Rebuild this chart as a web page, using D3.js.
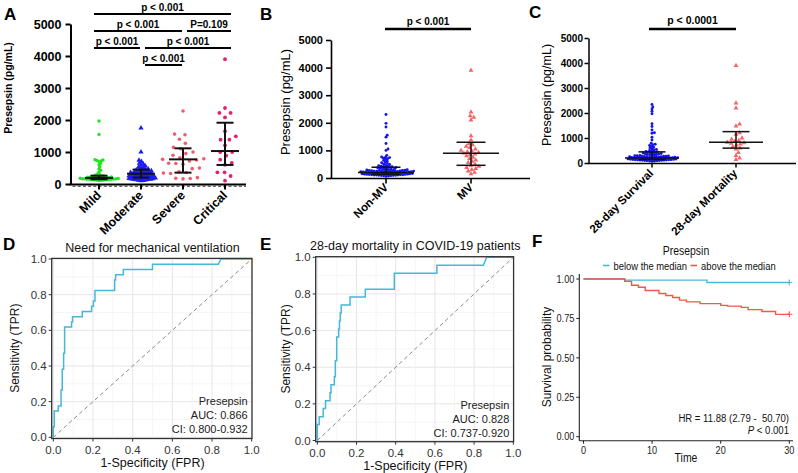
<!DOCTYPE html>
<html><head><meta charset="utf-8">
<script src="https://cdn.jsdelivr.net/npm/d3@7"></script>
<style>
body{margin:0;background:#fff}
svg{display:block}
</style></head><body>
<svg id="fig" width="798" height="473"></svg>
<script>
// ---------------- DATA ----------------
const scatterTicks = [0, 1000, 2000, 3000, 4000, 5000];

// Panel A
const catsA = ["Mild", "Moderate", "Severe", "Critical"];
const mild = [110,115,120,125,130,135,140,140,145,150,150,155,160,160,165,170,170,175,180,180,185,190,195,200,200,210,215,220,230,240,250,260,275,290,320,380,430,480,540,600,650,700,720,735,750,760,1550,1970];
const moderate = [100,110,120,125,130,140,145,150,160,165,170,180,185,190,200,205,210,220,225,230,240,245,250,260,265,270,280,290,300,305,310,320,330,340,350,355,360,370,380,390,400,410,420,430,440,450,470,490,510,530,560,590,620,650,700,740,1000,1750];
const severe = [2280,1560,1540,1400,1270,1150,1100,1000,950,900,820,790,770,750,720,650,640,620,500,480,380,360,340,330,200,180,170,160];
const critical = [3900,2375,2220,2220,2080,1650,1490,1385,1385,1210,1000,1000,885,760,656,600,365,365,250,104];
const medianA = [190, 320, 770, 1030];
const q1A = [150, 200, 355, 595];
const q3A = [260, 450, 1115, 1915];
const sigA = [
  {a:"Mild", b:"Critical", label:"p < 0.001", level:0},
  {a:"Mild", b:"Severe", label:"p < 0.001", level:1},
  {a:"Severe", b:"Critical", label:"P=0.109", level:1},
  {a:"Mild", b:"Moderate", label:"p < 0.001", level:2},
  {a:"Moderate", b:"Critical", label:"p < 0.001", level:2},
  {a:"Moderate", b:"Severe", label:"p < 0.001", level:3}
];

// Panel B
const catsB = ["Non-MV", "MV"];
const nonMV = [60,70,80,85,90,95,100,100,105,110,110,115,120,120,125,130,130,135,140,140,145,150,150,155,160,160,165,170,170,175,180,180,185,190,190,195,200,200,205,210,210,215,220,220,225,230,230,235,240,240,245,250,250,255,260,260,265,270,270,275,280,285,290,295,300,
  310,320,330,340,350,360,370,380,390,400,410,420,430,440,450,470,490,510,530,550,580,610,640,670,700,720,740,750,760,
  820,1000,1050,1250,1480,1550,1850,1980,2300];
const mv = [3900,2390,2250,2200,2100,1530,1380,1250,1200,1150,1100,1050,1000,980,950,920,900,870,850,800,750,700,650,600,560,500,460,420,380,340,300,250,200,150];
const medianB = [200, 900];
const q1B = [140, 460];
const q3B = [390, 1295];
const sigB = [{a:"Non-MV", b:"MV", label:"p < 0.001", level:0}];

// Panel C
const catsC = ["28-day Survival", "28-day Mortality"];
const survival = [65,75,80,90,95,100,100,105,110,115,115,120,125,130,130,135,140,145,145,150,155,160,160,165,170,175,175,180,185,190,190,195,200,200,205,210,215,215,220,225,230,230,235,240,245,250,250,255,260,265,270,270,275,280,290,295,300,
  310,320,330,340,350,360,370,380,390,400,410,420,430,445,460,480,500,520,540,570,600,630,660,700,730,750,
  790,920,1030,1190,1210,1320,1460,1570,1970,2070,2160,2240,2340];
const mortality = [3900,2400,2200,1560,1480,1210,1150,1000,950,900,860,830,810,790,760,720,650,600,560,420,300,200,140];
const medianC = [200, 826];
const q1C = [140, 595];
const q3C = [445, 1255];
const sigC = [{a:"28-day Survival", b:"28-day Mortality", label:"p < 0.0001", level:0}];

// Panel D ROC (FPR, TPR)
const rocD_fpr = [0,0,0.005,0.005,0.025,0.025,0.039,0.039,0.045,0.045,0.052,0.052,0.057,0.057,0.092,0.092,0.097,0.097,0.146,0.146,0.193,0.193,0.202,0.202,0.210,0.210,0.309,0.309,0.314,0.314,0.353,0.353,0.50,0.50,0.832,0.845,1];
const rocD_tpr = [0,0.059,0.059,0.147,0.147,0.176,0.176,0.265,0.265,0.382,0.382,0.471,0.471,0.618,0.618,0.647,0.647,0.676,0.676,0.706,0.706,0.735,0.735,0.765,0.765,0.824,0.824,0.882,0.882,0.912,0.912,0.941,0.941,0.971,0.971,1,1];
const rocD_text = ["Presepsin", "AUC: 0.866", "CI: 0.800-0.932"];

// Panel E ROC
const rocE_fpr = [0,0,0.01,0.01,0.03,0.03,0.042,0.042,0.065,0.065,0.07,0.07,0.087,0.087,0.092,0.092,0.099,0.099,0.109,0.109,0.113,0.113,0.117,0.117,0.122,0.122,0.167,0.167,0.245,0.245,0.393,0.393,0.61,0.61,0.847,0.864,1];
const rocE_tpr = [0,0.087,0.087,0.13,0.13,0.174,0.174,0.217,0.217,0.261,0.261,0.304,0.304,0.348,0.348,0.435,0.435,0.565,0.565,0.609,0.609,0.652,0.652,0.696,0.696,0.739,0.739,0.783,0.783,0.826,0.826,0.913,0.913,0.957,0.957,1,1];
const rocE_text = ["Presepsin", "AUC: 0.828", "CI: 0.737-0.920"];
const rocTicks = [0, 0.2, 0.4, 0.6, 0.8, 1.0];

// Panel F Kaplan-Meier
const kmLowT = [0, 6, 18, 30];
const kmLowS = [1, 0.993, 0.978, 0.978];
const kmHighT = [0,6,7,8,9,11,12,13,14,15,17,20,21,23,24,26,28,30];
const kmHighS = [1,0.985,0.96,0.948,0.927,0.908,0.895,0.883,0.866,0.855,0.844,0.833,0.828,0.82,0.806,0.794,0.776,0.776];
const kmTimeTicks = [0, 10, 20, 30];
const kmSurvTicks = [0, 0.25, 0.5, 0.75, 1.0];
const kmLegend = ["below the median", "above the median"];

// ---------------- DRAW ----------------
const FONT = '"Liberation Sans", Arial, Helvetica, sans-serif';
const svg = d3.select("#fig").attr("font-family", FONT);

function panelLabel(t, x, y) {
  svg.append("text").attr("x", x).attr("y", y).attr("font-size", 17)
    .attr("font-weight", "bold").attr("fill", "#000").text(t);
}

// deterministic beeswarm
function swarm(vals, y, cx, d) {
  const pts = vals.map(v => ({v, y: y(v)})).sort((a, b) => a.v - b.v);
  const placed = [];
  const step = 0.4;
  for (const p of pts) {
    let px = cx;
    for (let k = 0; k < 500; k++) {
      const off = (k % 2 ? 1 : -1) * Math.ceil(k / 2) * step;
      const xx = cx + off;
      let ok = true;
      for (const q of placed) {
        const dx = q.x - xx, dy = q.y - p.y;
        if (dx * dx + dy * dy < d * d) { ok = false; break; }
      }
      if (ok) { px = xx; break; }
    }
    p.x = px;
    placed.push(p);
  }
  return pts;
}

function scatterPanel(o) {
  const g = svg.append("g");
  const y = d3.scaleLinear().domain([0, 5000]).range([o.yBot, o.yTop]);
  const x = d3.scalePoint().domain(o.cats).range([o.cx0, o.cx1]);

  // points
  o.groups.forEach((grp, i) => {
    const pts = swarm(grp.values, y, x(o.cats[i]), grp.d);
    if (grp.shape === "tri") {
      g.append("g").selectAll("path").data(pts).join("path")
        .attr("transform", p => `translate(${p.x},${p.y})`)
        .attr("d", d3.symbol(d3.symbolTriangle, grp.size))
        .attr("fill", grp.color);
    } else {
      g.append("g").selectAll("circle").data(pts).join("circle")
        .attr("cx", p => p.x).attr("cy", p => p.y).attr("r", grp.r)
        .attr("fill", grp.color);
    }
  });

  // error bars (median & IQR)
  o.cats.forEach((c, i) => {
    const cx = x(c);
    const eg = g.append("g").attr("stroke", "#111").attr("stroke-width", o.ebw).attr("fill", "none");
    eg.append("line").attr("x1", cx).attr("x2", cx).attr("y1", y(o.q1[i])).attr("y2", y(o.q3[i]));
    eg.append("line").attr("x1", cx - o.medW).attr("x2", cx + o.medW).attr("y1", y(o.med[i])).attr("y2", y(o.med[i]));
    [o.q1[i], o.q3[i]].forEach(v => eg.append("line").attr("x1", cx - o.capW).attr("x2", cx + o.capW).attr("y1", y(v)).attr("y2", y(v)));
  });

  // y axis
  const ya = g.append("g").attr("transform", `translate(${o.axX},0)`)
    .call(d3.axisLeft(y).tickValues(scatterTicks).tickSize(o.tickLen).tickSizeOuter(0).tickPadding(o.pad).tickFormat(d3.format("d")));
  ya.attr("font-family", FONT).attr("font-size", o.tickFs);
  ya.select(".domain").attr("stroke", "#000").attr("stroke-width", o.sw);
  ya.selectAll(".tick line").attr("stroke", "#000").attr("stroke-width", o.sw);
  ya.selectAll(".tick text").attr("font-weight", "bold").attr("fill", "#000");

  // x axis
  g.append("line").attr("x1", o.axX - o.sw / 2).attr("x2", o.axEnd).attr("y1", o.yBot + 0.5).attr("y2", o.yBot + 0.5)
    .attr("stroke", "#000").attr("stroke-width", o.sw);
  if (o.minor) {
    g.append("line").attr("x1", o.axX + 2).attr("x2", o.axEnd).attr("y1", o.yBot + 2.3).attr("y2", o.yBot + 2.3)
      .attr("stroke", "#333").attr("stroke-width", 1.1).attr("stroke-dasharray", "3,2.2");
  }
  o.cats.forEach(c => {
    g.append("line").attr("x1", x(c)).attr("x2", x(c)).attr("y1", o.yBot).attr("y2", o.yBot + o.tickLen + 0.5)
      .attr("stroke", "#000").attr("stroke-width", o.sw);
    g.append("text").attr("transform", `translate(${x(c) + o.lblDx},${o.yBot + o.lblDy}) rotate(-45)`)
      .attr("text-anchor", "end").attr("font-size", o.lblFs).attr("font-weight", "bold").attr("fill", "#000").text(c);
  });

  // significance bars
  o.sig.forEach(s => {
    const first = s.a === o.cats[0], last = s.b === o.cats[o.cats.length - 1];
    const xl = x(s.a) + (first ? o.sigPadL : 4);
    const xr = x(s.b) + (last ? o.sigPadR : -1);
    const yy = o.sigTop + s.level * o.sigStep;
    g.append("line").attr("x1", xl).attr("x2", xr).attr("y1", yy).attr("y2", yy)
      .attr("stroke", "#000").attr("stroke-width", o.sigW);
    g.append("text").attr("x", (xl + xr) / 2).attr("y", yy - o.sigTextGap).attr("text-anchor", "middle")
      .attr("font-size", o.sigFs).attr("font-weight", "bold").attr("fill", "#000").text(s.label);
  });

  // y title
  g.append("text").attr("transform", `translate(${o.ytx},${o.yty}) rotate(-90)`)
    .attr("text-anchor", "middle").attr("dominant-baseline", "central")
    .attr("font-size", o.ytFs).attr("font-weight", o.ytW).attr("fill", "#000").text("Presepsin (pg/mL)");
}

// Panel A
scatterPanel({
  cats: catsA, yBot: 184, yTop: 24, cx0: 99, cx1: 225, axX: 70.5, axEnd: 246,
  groups: [
    {values: mild, color: "#22e322", shape: "circle", r: 1.7, d: 2.05},
    {values: moderate, color: "#1c1cf5", shape: "tri", size: 12, d: 2.4},
    {values: severe, color: "#f55a6b", shape: "circle", r: 1.8, d: 7},
    {values: critical, color: "#e1206e", shape: "circle", r: 1.9, d: 7}
  ],
  med: medianA, q1: q1A, q3: q3A, medW: 14, capW: 8.5, ebw: 2,
  tickLen: 5, pad: 4, tickFs: 12.5, sw: 2, minor: true,
  lblDx: 3, lblDy: 12, lblFs: 12.5,
  sig: sigA, sigTop: 14, sigStep: 17, sigPadL: -5, sigPadR: 6, sigW: 1.8, sigTextGap: 3.5, sigFs: 10,
  ytx: 8, yty: 88, ytFs: 10.5, ytW: "bold"
});
panelLabel("A", 4, 20);

// Panel B
scatterPanel({
  cats: catsB, yBot: 178, yTop: 40, cx0: 386, cx1: 471, axX: 331, axEnd: 530,
  groups: [
    {values: nonMV, color: "#1414ee", shape: "circle", r: 1.45, d: 2.15},
    {values: mv, color: "#f56565", shape: "tri", size: 10, d: 3.8}
  ],
  med: medianB, q1: q1B, q3: q3B, medW: 28, capW: 14.5, ebw: 1.5,
  tickLen: 5, pad: 3, tickFs: 11, sw: 1.6, minor: false,
  lblDx: 3, lblDy: 10, lblFs: 11.5,
  sig: sigB, sigTop: 29, sigStep: 0, sigPadL: -1, sigPadR: 0, sigW: 2.4, sigTextGap: 4.5, sigFs: 10,
  ytx: 285, yty: 102, ytFs: 13, ytW: "normal"
});
panelLabel("B", 260, 20);

// Panel C
scatterPanel({
  cats: catsC, yBot: 163, yTop: 38, cx0: 652, cx1: 736, axX: 588.5, axEnd: 796,
  groups: [
    {values: survival, color: "#1414ee", shape: "circle", r: 1.45, d: 2.1},
    {values: mortality, color: "#f56565", shape: "tri", size: 10, d: 3.8}
  ],
  med: medianC, q1: q1C, q3: q3C, medW: 27, capW: 13.5, ebw: 1.5,
  tickLen: 4, pad: 1.5, tickFs: 10, sw: 1.5, minor: false,
  lblDx: 2, lblDy: 11, lblFs: 11.5,
  sig: sigC, sigTop: 29, sigStep: 0, sigPadL: -3, sigPadR: 0, sigW: 2.4, sigTextGap: 5.5, sigFs: 10.5,
  ytx: 547, yty: 95, ytFs: 12.5, ytW: "normal"
});
panelLabel("C", 529, 18);

// ROC panels
function rocPanel(o) {
  const g = svg.append("g");
  const x = d3.scaleLinear().domain([0, 1]).range([o.x0, o.x1]);
  const y = d3.scaleLinear().domain([0, 1]).range([o.y0, o.y1]);
  const bx0 = o.x0 - 1.6, bx1 = o.x1 + 0.3, by0 = o.y0 + 1.2, by1 = o.y1 - 0.6;
  g.append("rect").attr("x", bx0).attr("y", by1).attr("width", bx1 - bx0).attr("height", by0 - by1).attr("fill", "#fff");
  // grid
  const grid = d3.range(0, 11).map(i => i / 10);
  grid.forEach((v, i) => {
    const major = i % 2 === 0;
    const col = major ? "#e6e6e6" : "#f1f1f1";
    const w = major ? 1 : 0.7;
    g.append("line").attr("x1", x(v)).attr("x2", x(v)).attr("y1", by0).attr("y2", by1).attr("stroke", col).attr("stroke-width", w);
    g.append("line").attr("y1", y(v)).attr("y2", y(v)).attr("x1", bx0).attr("x2", bx1).attr("stroke", col).attr("stroke-width", w);
  });
  // diagonal
  g.append("line").attr("x1", x(0)).attr("y1", y(0)).attr("x2", x(1)).attr("y2", y(1))
    .attr("stroke", "#8a8a8a").attr("stroke-width", 1).attr("stroke-dasharray", "4,3");
  // curve
  const pts = o.fpr.map((f, i) => [f, o.tpr[i]]);
  g.append("path").datum(pts).attr("d", d3.line().x(d => x(d[0])).y(d => y(d[1])))
    .attr("fill", "none").attr("stroke", "#45b7d9").attr("stroke-width", 1.5);
  // border
  g.append("rect").attr("x", bx0).attr("y", by1).attr("width", bx1 - bx0).attr("height", by0 - by1)
    .attr("fill", "none").attr("stroke", "#333").attr("stroke-width", 1.3);
  // ticks
  rocTicks.forEach(v => {
    g.append("line").attr("x1", x(v)).attr("x2", x(v)).attr("y1", by0).attr("y2", by0 + 3).attr("stroke", "#333");
    g.append("text").attr("x", x(v)).attr("y", by0 + 15).attr("text-anchor", "middle")
      .attr("font-size", 11.5).attr("fill", "#333").text(d3.format(".1f")(v));
    g.append("line").attr("y1", y(v)).attr("y2", y(v)).attr("x1", bx0).attr("x2", bx0 - 3).attr("stroke", "#333");
    g.append("text").attr("x", bx0 - 5).attr("y", y(v)).attr("dy", "0.35em").attr("text-anchor", "end")
      .attr("font-size", 11.5).attr("fill", "#333").text(d3.format(".1f")(v));
  });
  // annotation
  o.text.forEach((t, i) => {
    g.append("text").attr("x", x(1) - 4).attr("y", o.y0 - 32 + i * 14).attr("text-anchor", "end")
      .attr("font-size", 11).attr("fill", "#222").text(t);
  });
  // titles
  g.append("text").attr("x", (o.x0 + o.x1) / 2).attr("y", o.y1 - 7).attr("text-anchor", "middle")
    .attr("font-size", 12.5).attr("fill", "#111").text(o.title);
  g.append("text").attr("x", (o.x0 + o.x1) / 2).attr("y", by0 + 28).attr("text-anchor", "middle")
    .attr("font-size", 12.5).attr("fill", "#111").text("1-Specificity (FPR)");
  g.append("text").attr("transform", `translate(${o.ytx},${(o.y0 + o.y1) / 2}) rotate(-90)`)
    .attr("text-anchor", "middle").attr("dominant-baseline", "central")
    .attr("font-size", 12).attr("fill", "#111").text("Sensitivity (TPR)");
}

rocPanel({x0: 53.3, x1: 251.7, y0: 437.3, y1: 259, fpr: rocD_fpr, tpr: rocD_tpr, text: rocD_text,
  title: "Need for mechanical ventilation", ytx: 15});
panelLabel("D", 3, 250);
rocPanel({x0: 317.3, x1: 513.3, y0: 440.5, y1: 257.3, fpr: rocE_fpr, tpr: rocE_tpr, text: rocE_text,
  title: "28-day mortality in COVID-19 patients", ytx: 286});
panelLabel("E", 260, 250);

// Panel F KM
(function () {
  const g = svg.append("g");
  const x = d3.scaleLinear().domain([0, 30]).range([583.5, 789.3]);
  const y = d3.scaleLinear().domain([0, 1]).range([436.7, 279]);
  const axY = 579.3, axXline = 440.7;
  const colLow = "#4cb8d9", colHigh = "#ef5a48";
  const NARROW = 0.87;
  function ntext(xx, yy, anchor, fs, str) {
    return g.append("g").attr("transform", `translate(${xx},${yy}) scale(${NARROW},1)`)
      .append("text").attr("text-anchor", anchor).attr("font-size", fs).attr("fill", "#111").text(str);
  }
  // axes
  g.append("line").attr("x1", axY).attr("x2", axY).attr("y1", axXline).attr("y2", 274).attr("stroke", "#222").attr("stroke-width", 1.1);
  g.append("line").attr("x1", axY).attr("x2", 793).attr("y1", axXline).attr("y2", axXline).attr("stroke", "#222").attr("stroke-width", 1.1);
  kmSurvTicks.forEach(v => {
    g.append("line").attr("x1", axY).attr("x2", axY - 3).attr("y1", y(v)).attr("y2", y(v)).attr("stroke", "#222");
    ntext(axY - 5, y(v) + 3.7, "end", 10.5, d3.format(".2f")(v)).attr("fill", "#222");
  });
  kmTimeTicks.forEach(v => {
    g.append("line").attr("x1", x(v)).attr("x2", x(v)).attr("y1", axXline).attr("y2", axXline + 3).attr("stroke", "#222");
    ntext(x(v), axXline + 13.5, "middle", 10.5, v).attr("fill", "#222");
  });
  const line = d3.line().x(d => x(d[0])).y(d => y(d[1])).curve(d3.curveStepAfter);
  const low = kmLowT.map((t, i) => [t, kmLowS[i]]);
  const high = kmHighT.map((t, i) => [t, kmHighS[i]]);
  g.append("path").datum(low).attr("d", line).attr("fill", "none").attr("stroke", colLow).attr("stroke-width", 1.4);
  g.append("path").datum(high).attr("d", line).attr("fill", "none").attr("stroke", colHigh).attr("stroke-width", 1.4);
  // censor marks
  [[low[low.length - 1], colLow], [high[high.length - 1], colHigh]].forEach(([p, c]) => {
    const cx = x(p[0]), cy = y(p[1]);
    g.append("path").attr("d", `M${cx - 3},${cy}H${cx + 3}M${cx},${cy - 3}V${cy + 3}`).attr("stroke", c).attr("stroke-width", 1.1);
  });
  // labels
  ntext(686, 461.5, "middle", 12, "Time");
  g.append("text").attr("transform", `translate(547,357) rotate(-90)`).attr("text-anchor", "middle")
    .attr("dominant-baseline", "central").attr("font-size", 12).attr("fill", "#111").text("Survival probability");
  ntext(789, 422, "end", 11, "HR = 11.88 (2.79 -\u00a0\u00a050.70)");
  const pt = ntext(789, 433.5, "end", 11, "");
  pt.append("tspan").attr("font-style", "italic").text("P");
  pt.append("tspan").text(" < 0.001");
  // legend
  ntext(686, 255, "middle", 12, "Presepsin");
  const legX = [603, 690.5], cols = [colLow, colHigh];
  kmLegend.forEach((t, i) => {
    g.append("line").attr("x1", legX[i]).attr("x2", legX[i] + 6.5).attr("y1", 265.5).attr("y2", 265.5).attr("stroke", cols[i]).attr("stroke-width", 1.6);
    ntext(legX[i] + 10.5, 269.5, "start", 10.8, t);
  });
})();
panelLabel("F", 532, 247);
</script>
</body></html>
